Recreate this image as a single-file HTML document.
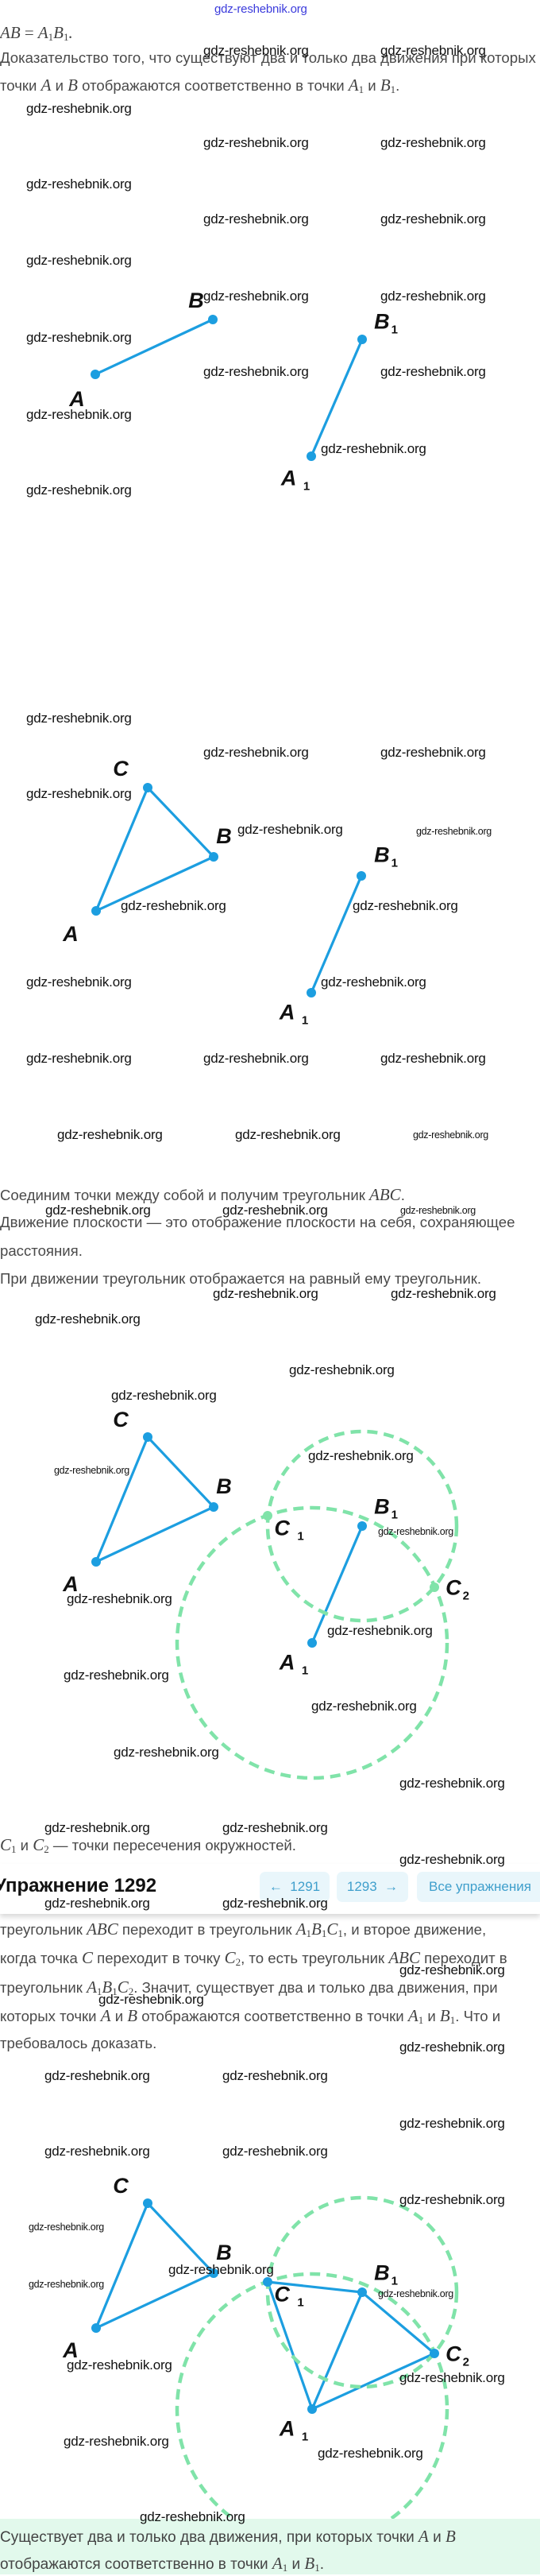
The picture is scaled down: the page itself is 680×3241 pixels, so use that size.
<!DOCTYPE html>
<html><head><meta charset="utf-8">
<style>
html,body{margin:0;padding:0;background:#fff;}
body{width:680px;height:3239px;position:relative;overflow:hidden;}
.t{position:absolute;left:0;white-space:nowrap;font-family:"Liberation Sans",sans-serif;font-size:18.6px;color:#4a4a4a;line-height:20px;}
.m{font-family:"Liberation Serif",serif;font-style:italic;font-size:21px;color:#444;}
.m sub{font-style:normal;font-size:13px;vertical-align:-3px;}
.w{position:absolute;white-space:nowrap;font-family:"Liberation Sans",sans-serif;font-size:17px;color:#111;line-height:20px;z-index:5;letter-spacing:-0.2px;}
.ws{font-size:12.5px;letter-spacing:-0.3px;}
.lb{position:absolute;white-space:nowrap;font-family:"Liberation Sans Narrow","Liberation Sans",sans-serif;font-weight:bold;font-style:italic;font-size:27px;color:#111;line-height:28px;transform:translate(-50%,-50%);}
.lb sub{font-size:15px;font-style:normal;vertical-align:-6px;margin-left:2px;}
.btn{position:absolute;top:2355px;height:38px;background:#e9f6fb;border-radius:7px;color:#3f9fcc;font-family:"Liberation Sans",sans-serif;font-size:17px;line-height:38px;text-align:center;z-index:3;}
</style></head><body>

<svg width="680" height="3239" style="position:absolute;left:0;top:0" xmlns="http://www.w3.org/2000/svg">
<g stroke="#1c9ee0" stroke-width="3.2" fill="none">
<line x1="120" y1="471" x2="268" y2="402"/>
<line x1="456" y1="427" x2="392" y2="574"/>
<polygon points="121,1146 186,991 269,1078"/>
<line x1="455" y1="1102" x2="392" y2="1249"/>
<polygon points="121,1965 186,1808 269,1896"/>
<line x1="456" y1="1920" x2="393" y2="2067"/>
<polygon points="121,2929 186,2772 269,2860"/>
<polygon points="337,2871 456,2884 547,2961 393,3031"/>
<line x1="456" y1="2884" x2="393" y2="3031"/>
</g>
<g stroke="#80e3a9" stroke-width="4.5" fill="none" stroke-dasharray="13 8">
<circle cx="393" cy="2067" r="170"/>
<circle cx="456" cy="1920" r="119"/>
<circle cx="393" cy="3031" r="170"/>
<circle cx="456" cy="2884" r="119"/>
</g>
<g fill="#1c9ee0">
<circle cx="120" cy="471" r="6"/><circle cx="268" cy="402" r="6"/>
<circle cx="456" cy="427" r="6"/><circle cx="392" cy="574" r="6"/>
<circle cx="121" cy="1146" r="6"/><circle cx="186" cy="991" r="6"/><circle cx="269" cy="1078" r="6"/>
<circle cx="455" cy="1102" r="6"/><circle cx="392" cy="1249" r="6"/>
<circle cx="121" cy="1965" r="6"/><circle cx="186" cy="1808" r="6"/><circle cx="269" cy="1896" r="6"/>
<circle cx="456" cy="1920" r="6"/><circle cx="393" cy="2067" r="6"/>
<circle cx="121" cy="2929" r="6"/><circle cx="186" cy="2772" r="6"/><circle cx="269" cy="2860" r="6"/>
<circle cx="456" cy="2884" r="6"/><circle cx="393" cy="3031" r="6"/>
<circle cx="337" cy="2871" r="6"/><circle cx="547" cy="2961" r="6"/>
</g>
<g fill="#80e3a9">
<circle cx="337" cy="1907" r="6"/><circle cx="547" cy="1997" r="6"/>
</g>
</svg>

<div class="lb" style="left:247px;top:378px">B</div>
<div class="lb" style="left:97px;top:502px">A</div>
<div class="lb" style="left:486px;top:410px">B<sub>1</sub></div>
<div class="lb" style="left:372px;top:607px">A <sub>1</sub></div>
<div class="lb" style="left:152px;top:967px">C</div>
<div class="lb" style="left:282px;top:1052px">B</div>
<div class="lb" style="left:89px;top:1175px">A</div>
<div class="lb" style="left:486px;top:1081px">B<sub>1</sub></div>
<div class="lb" style="left:370px;top:1279px">A <sub>1</sub></div>
<div class="lb" style="left:152px;top:1786px">C</div>
<div class="lb" style="left:282px;top:1870px">B</div>
<div class="lb" style="left:89px;top:1993px">A</div>
<div class="lb" style="left:486px;top:1901px">B<sub>1</sub></div>
<div class="lb" style="left:364px;top:1928px">C <sub>1</sub></div>
<div class="lb" style="left:576px;top:2003px">C<sub>2</sub></div>
<div class="lb" style="left:370px;top:2097px">A <sub>1</sub></div>
<div class="lb" style="left:152px;top:2750px">C</div>
<div class="lb" style="left:282px;top:2834px">B</div>
<div class="lb" style="left:89px;top:2957px">A</div>
<div class="lb" style="left:486px;top:2865px">B<sub>1</sub></div>
<div class="lb" style="left:364px;top:2892px">C <sub>1</sub></div>
<div class="lb" style="left:576px;top:2967px">C<sub>2</sub></div>
<div class="lb" style="left:370px;top:3061px">A <sub>1</sub></div>

<div class="t" style="top:31px"><span class="m" style="font-size:21px">AB</span> <span class="m" style="font-size:21px;font-style:normal">=</span> <span class="m" style="font-size:21px">A<sub>1</sub>B<sub>1</sub>.</span></div>
<div class="t" style="top:63px">Доказательство того, что существуют два и только два движения при которых</div>
<div class="t" style="top:97px">точки <span class="m">A</span> и <span class="m">B</span> отображаются соответственно в точки <span class="m">A<sub>1</sub></span> и <span class="m">B<sub>1</sub></span>.</div>
<div class="t" style="top:1493px">Соединим точки между собой и получим треугольник <span class="m">ABC</span>.</div>
<div class="t" style="top:1528px">Движение плоскости — это отображение плоскости на себя, сохраняющее</div>
<div class="t" style="top:1564px">расстояния.</div>
<div class="t" style="top:1599px">При движении треугольник отображается на равный ему треугольник.</div>
<div class="t" style="top:2311px"><span class="m">C<sub>1</sub></span> и <span class="m">C<sub>2</sub></span> — точки пересечения окружностей.</div>

<div style="position:absolute;left:0;top:2345px;width:680px;height:63px;background:#fff;box-shadow:0 4px 6px rgba(0,0,0,0.15);z-index:2"></div>
<div class="t" style="top:2359px;left:-7px;font-size:24px;font-weight:bold;color:#111;line-height:28px;z-index:3">Упражнение 1292</div>
<div class="btn" style="left:327px;width:88px">← &nbsp;1291</div>
<div class="btn" style="left:424px;width:90px">1293 &nbsp;→</div>
<div class="btn" style="left:525px;width:170px;text-align:left;padding-left:15px;box-sizing:border-box">Все упражнения</div>

<div class="t" style="top:2417px">треугольник <span class="m">ABC</span> переходит в треугольник <span class="m">A<sub>1</sub>B<sub>1</sub>C<sub>1</sub></span>, и второе движение,</div>
<div class="t" style="top:2453px">когда точка <span class="m">C</span> переходит в точку <span class="m">C<sub>2</sub></span>, то есть треугольник <span class="m">ABC</span> переходит в</div>
<div class="t" style="top:2490px">треугольник <span class="m">A<sub>1</sub>B<sub>1</sub>C<sub>2</sub></span>. Значит, существует два и только два движения, при</div>
<div class="t" style="top:2526px">которых точки <span class="m">A</span> и <span class="m">B</span> отображаются соответственно в точки <span class="m">A<sub>1</sub></span> и <span class="m">B<sub>1</sub></span>. Что и</div>
<div class="t" style="top:2561px">требовалось доказать.</div>

<div style="position:absolute;left:0;top:3169px;width:680px;height:70px;background:#e2f9ec;z-index:3"></div>
<div class="t" style="top:3181px;z-index:4;color:#444;font-size:19px">Существует два и только два движения, при которых точки <span class="m">A</span> и <span class="m">B</span></div>
<div class="t" style="top:3215px;z-index:4;color:#444;font-size:19px">отображаются соответственно в точки <span class="m">A<sub>1</sub></span> и <span class="m">B<sub>1</sub></span>.</div>

<div class="w" style="left:270px;top:2px;color:#3b3bdc;font-size:15px">gdz-reshebnik.org</div>
<div class="w" style="left:256px;top:54px">gdz-reshebnik.org</div>
<div class="w" style="left:479px;top:54px">gdz-reshebnik.org</div>
<div class="w" style="left:33px;top:127px">gdz-reshebnik.org</div>
<div class="w" style="left:256px;top:170px">gdz-reshebnik.org</div>
<div class="w" style="left:479px;top:170px">gdz-reshebnik.org</div>
<div class="w" style="left:33px;top:222px">gdz-reshebnik.org</div>
<div class="w" style="left:256px;top:266px">gdz-reshebnik.org</div>
<div class="w" style="left:479px;top:266px">gdz-reshebnik.org</div>
<div class="w" style="left:33px;top:318px">gdz-reshebnik.org</div>
<div class="w" style="left:256px;top:363px">gdz-reshebnik.org</div>
<div class="w" style="left:479px;top:363px">gdz-reshebnik.org</div>
<div class="w" style="left:33px;top:415px">gdz-reshebnik.org</div>
<div class="w" style="left:256px;top:458px">gdz-reshebnik.org</div>
<div class="w" style="left:479px;top:458px">gdz-reshebnik.org</div>
<div class="w" style="left:33px;top:512px">gdz-reshebnik.org</div>
<div class="w" style="left:404px;top:555px">gdz-reshebnik.org</div>
<div class="w" style="left:33px;top:607px">gdz-reshebnik.org</div>

<div class="w" style="left:33px;top:894px">gdz-reshebnik.org</div>
<div class="w" style="left:256px;top:937px">gdz-reshebnik.org</div>
<div class="w" style="left:479px;top:937px">gdz-reshebnik.org</div>
<div class="w" style="left:33px;top:989px">gdz-reshebnik.org</div>
<div class="w" style="left:299px;top:1034px">gdz-reshebnik.org</div>
<div class="w ws" style="left:524px;top:1036px">gdz-reshebnik.org</div>
<div class="w" style="left:152px;top:1130px">gdz-reshebnik.org</div>
<div class="w" style="left:444px;top:1130px">gdz-reshebnik.org</div>
<div class="w" style="left:33px;top:1226px">gdz-reshebnik.org</div>
<div class="w" style="left:404px;top:1226px">gdz-reshebnik.org</div>
<div class="w" style="left:33px;top:1322px">gdz-reshebnik.org</div>
<div class="w" style="left:256px;top:1322px">gdz-reshebnik.org</div>
<div class="w" style="left:479px;top:1322px">gdz-reshebnik.org</div>
<div class="w" style="left:72px;top:1418px">gdz-reshebnik.org</div>
<div class="w" style="left:296px;top:1418px">gdz-reshebnik.org</div>
<div class="w ws" style="left:520px;top:1418px">gdz-reshebnik.org</div>
<div class="w" style="left:57px;top:1513px">gdz-reshebnik.org</div>
<div class="w" style="left:280px;top:1513px">gdz-reshebnik.org</div>
<div class="w ws" style="left:504px;top:1513px">gdz-reshebnik.org</div>

<div class="w" style="left:268px;top:1618px">gdz-reshebnik.org</div>
<div class="w" style="left:492px;top:1618px">gdz-reshebnik.org</div>
<div class="w" style="left:44px;top:1650px">gdz-reshebnik.org</div>
<div class="w" style="left:364px;top:1714px">gdz-reshebnik.org</div>
<div class="w" style="left:140px;top:1746px">gdz-reshebnik.org</div>
<div class="w" style="left:388px;top:1822px">gdz-reshebnik.org</div>
<div class="w ws" style="left:68px;top:1840px">gdz-reshebnik.org</div>
<div class="w ws" style="left:476px;top:1917px">gdz-reshebnik.org</div>
<div class="w" style="left:84px;top:2002px">gdz-reshebnik.org</div>
<div class="w" style="left:412px;top:2042px">gdz-reshebnik.org</div>
<div class="w" style="left:80px;top:2098px">gdz-reshebnik.org</div>
<div class="w" style="left:392px;top:2137px">gdz-reshebnik.org</div>
<div class="w" style="left:143px;top:2195px">gdz-reshebnik.org</div>
<div class="w" style="left:503px;top:2234px">gdz-reshebnik.org</div>
<div class="w" style="left:56px;top:2290px">gdz-reshebnik.org</div>
<div class="w" style="left:280px;top:2290px">gdz-reshebnik.org</div>
<div class="w" style="left:503px;top:2330px">gdz-reshebnik.org</div>

<div class="w" style="left:56px;top:2385px">gdz-reshebnik.org</div>
<div class="w" style="left:280px;top:2385px">gdz-reshebnik.org</div>
<div class="w" style="left:503px;top:2469px">gdz-reshebnik.org</div>
<div class="w" style="left:124px;top:2506px">gdz-reshebnik.org</div>
<div class="w" style="left:503px;top:2566px">gdz-reshebnik.org</div>
<div class="w" style="left:56px;top:2602px">gdz-reshebnik.org</div>
<div class="w" style="left:280px;top:2602px">gdz-reshebnik.org</div>
<div class="w" style="left:503px;top:2662px">gdz-reshebnik.org</div>
<div class="w" style="left:56px;top:2697px">gdz-reshebnik.org</div>
<div class="w" style="left:280px;top:2697px">gdz-reshebnik.org</div>
<div class="w" style="left:503px;top:2758px">gdz-reshebnik.org</div>
<div class="w ws" style="left:36px;top:2792px">gdz-reshebnik.org</div>
<div class="w" style="left:212px;top:2846px">gdz-reshebnik.org</div>
<div class="w ws" style="left:36px;top:2864px">gdz-reshebnik.org</div>
<div class="w ws" style="left:476px;top:2876px">gdz-reshebnik.org</div>
<div class="w" style="left:84px;top:2966px">gdz-reshebnik.org</div>
<div class="w" style="left:503px;top:2982px">gdz-reshebnik.org</div>
<div class="w" style="left:80px;top:3062px">gdz-reshebnik.org</div>
<div class="w" style="left:400px;top:3077px">gdz-reshebnik.org</div>
<div class="w" style="left:176px;top:3157px">gdz-reshebnik.org</div>

</body></html>
